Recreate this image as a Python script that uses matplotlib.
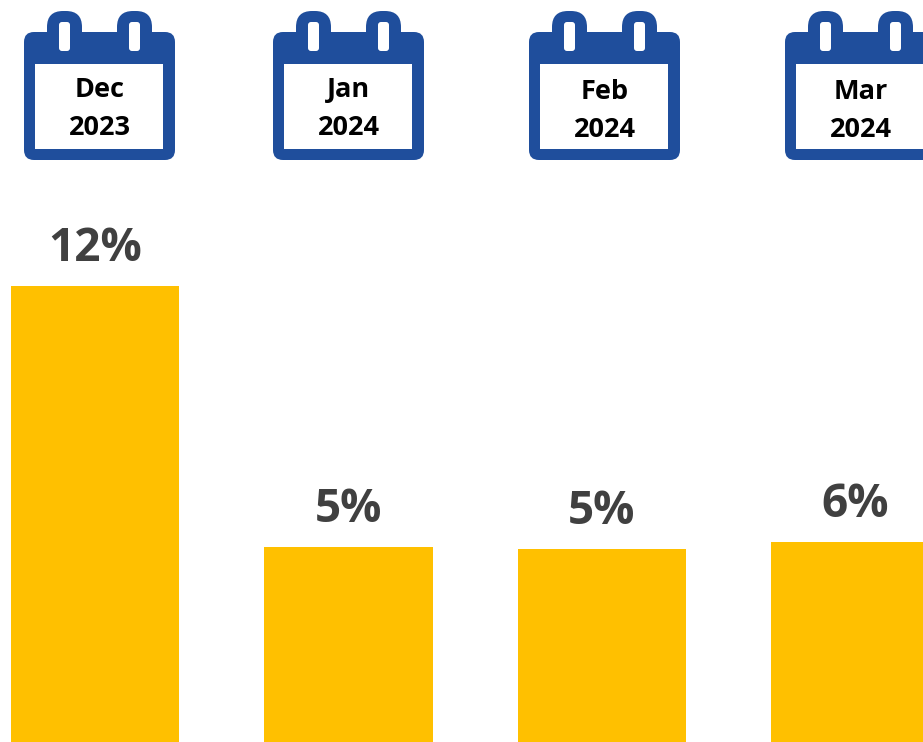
import matplotlib.pyplot as plt
from matplotlib.patches import FancyBboxPatch, Rectangle

months = ['Dec\n2023', 'Jan\n2024', 'Feb\n2024', 'Mar\n2024']
values = [12.4, 5.4, 5.35, 5.53]
labels = ['12%', '5%', '5%', '6%']

plt.rcParams['font.family'] = ['Open Sans', 'DejaVu Sans']

BLUE = '#1F4E9C'
GOLD = '#FFC000'
W, H = 923, 742
PX_PER_UNIT = 261 / 7
STEP = 253.4
BAR_X0 = 95


def rounded(ax, x0, y0, x1, y1, r, color, z):
    box = FancyBboxPatch((x0 + r, y0 + r), x1 - x0 - 2 * r, y1 - y0 - 2 * r,
                         boxstyle=f'round,pad={r},rounding_size={r}',
                         facecolor=color, edgecolor='none', zorder=z)
    ax.add_patch(box)


def calendar(ax, left, text, text_dy):
    # body, rings, slots, white window - all in pixels from the icon's left edge
    rounded(ax, left, 32, left + 151, 160, 10, BLUE, 2)
    for dx in (23, 93):
        rounded(ax, left + dx, 11, left + dx + 35, 50, 16, BLUE, 2)
        rounded(ax, left + dx + 12, 22, left + dx + 23, 51, 3, 'white', 3)
    ax.add_patch(Rectangle((left + 11, 64), 128, 85, facecolor='white',
                           edgecolor='none', zorder=3))
    first, second = text.split('\n')
    ax.text(left + 75.5, 90 + text_dy, first, ha='center', va='center',
            fontsize=19.5, fontweight='bold', color='black', zorder=4)
    ax.text(left + 75.5, 128 + text_dy, second, ha='center', va='center',
            fontsize=19.5, fontweight='bold', color='black', zorder=4)


fig = plt.figure(figsize=(W / 100, H / 100), dpi=100)

# bars: value axis set so the baseline falls just below the bottom edge
ax = fig.add_axes([0, 0, 1, 1])
y_bottom = 12.4 - (H - 286) / PX_PER_UNIT
y_top = 12.4 + 286 / PX_PER_UNIT
ax.set_xlim(-BAR_X0 / STEP, (W - BAR_X0) / STEP)
ax.set_ylim(y_bottom, y_top)
ax.axis('off')
xs = range(len(values))
bars = ax.bar(xs, values, width=168.5 / STEP, color=GOLD, linewidth=0)
for x, v, lab in zip(xs, values, labels):
    ax.annotate(lab, (x, v), xytext=(0, 10), textcoords='offset points',
                ha='center', va='bottom', fontsize=33, fontweight='bold',
                color='#404040')

# calendar icons drawn on a pixel overlay
over = fig.add_axes([0, 0, 1, 1], facecolor='none')
over.set_xlim(0, W)
over.set_ylim(H, 0)
over.axis('off')
for left, month, dy in zip([24, 273, 529, 785], months, [0, 0, 2, 2]):
    calendar(over, left, month, dy)

fig.savefig('out.png', dpi=100)
